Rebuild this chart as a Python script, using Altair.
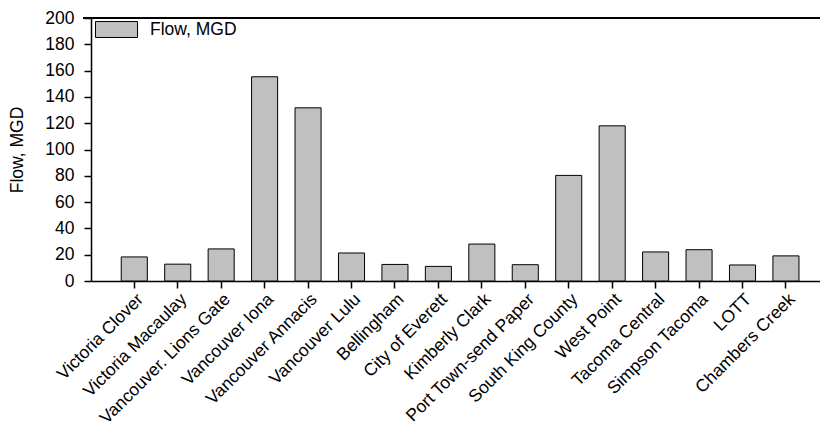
import altair as alt
import pandas as pd

categories = [
    "Victoria Clover", "Victoria Macaulay", "Vancouver. Lions Gate", "Vancouver Iona",
    "Vancouver Annacis", "Vancouver Lulu", "Bellingham", "City of Everett",
    "Kimberly Clark", "Port Town-send Paper", "South King County", "West Point",
    "Tacoma Central", "Simpson Tacoma", "LOTT", "Chambers Creek",
]
flow_mgd = [18.3, 12.8, 24.4, 155.3, 131.7, 21.3, 12.6, 11.1,
            28.1, 12.4, 80.3, 118.0, 22.1, 23.8, 12.2, 19.1]
series_name = "Flow, MGD"
y_ticks = list(range(0, 201, 20))

df = pd.DataFrame({"site": categories, "flow": flow_mgd, "series": series_name})

FONT = "Liberation Sans"
FS = 17.5
W, H = 729, 263

bars = alt.Chart(df).mark_bar(stroke="black", strokeWidth=1, opacity=1).encode(
    x=alt.X("site:N", sort=categories, title=None,
            scale=alt.Scale(paddingInner=0.4, paddingOuter=0.59, align=0.59),
            axis=alt.Axis(labelAngle=-45, labelAlign="right", labelBaseline="top",
                          labelFontSize=FS, labelFont=FONT, labelColor="black",
                          tickSize=7, tickColor="black", domainColor="black",
                          labelPadding=2, labelLimit=300)),
    y=alt.Y("flow:Q", title="Flow, MGD",
            scale=alt.Scale(domain=[0, 200], nice=False),
            axis=alt.Axis(values=y_ticks, grid=False, labelFontSize=FS, labelFont=FONT,
                          labelColor="black", tickSize=7, tickColor="black",
                          domainColor="black", labelPadding=10,
                          titleFontSize=FS, titleFont=FONT, titleFontWeight="normal",
                          titleColor="black", titlePadding=18)),
    color=alt.Color("series:N", title=None,
                    scale=alt.Scale(range=["#c0c0c0"]),
                    legend=alt.Legend(orient="none", legendX=4, legendY=-10,
                                      symbolType="M-1,-0.38L1,-0.38L1,0.38L-1,0.38Z",
                                      symbolSize=1764, symbolStrokeColor="black",
                                      symbolStrokeWidth=1, symbolOpacity=1,
                                      labelFontSize=FS, labelFont=FONT, labelColor="black",
                                      labelOffset=12, padding=0)),
)

top_line = alt.Chart(df).mark_rule(color="black", strokeWidth=1.5).encode(
    x=alt.value(-8), x2=alt.value(W), y=alt.value(0)
)

chart = alt.layer(bars, top_line).properties(
    width=W, height=H,
    autosize=alt.AutoSizeParams(type="none"),
    padding={"left": 83, "top": 10, "right": 0, "bottom": 146},
).configure_view(stroke=None).configure_axis(domainWidth=1.5, tickWidth=1.5)

chart.save("out.html", embed_options={"renderer": "svg", "actions": False})
